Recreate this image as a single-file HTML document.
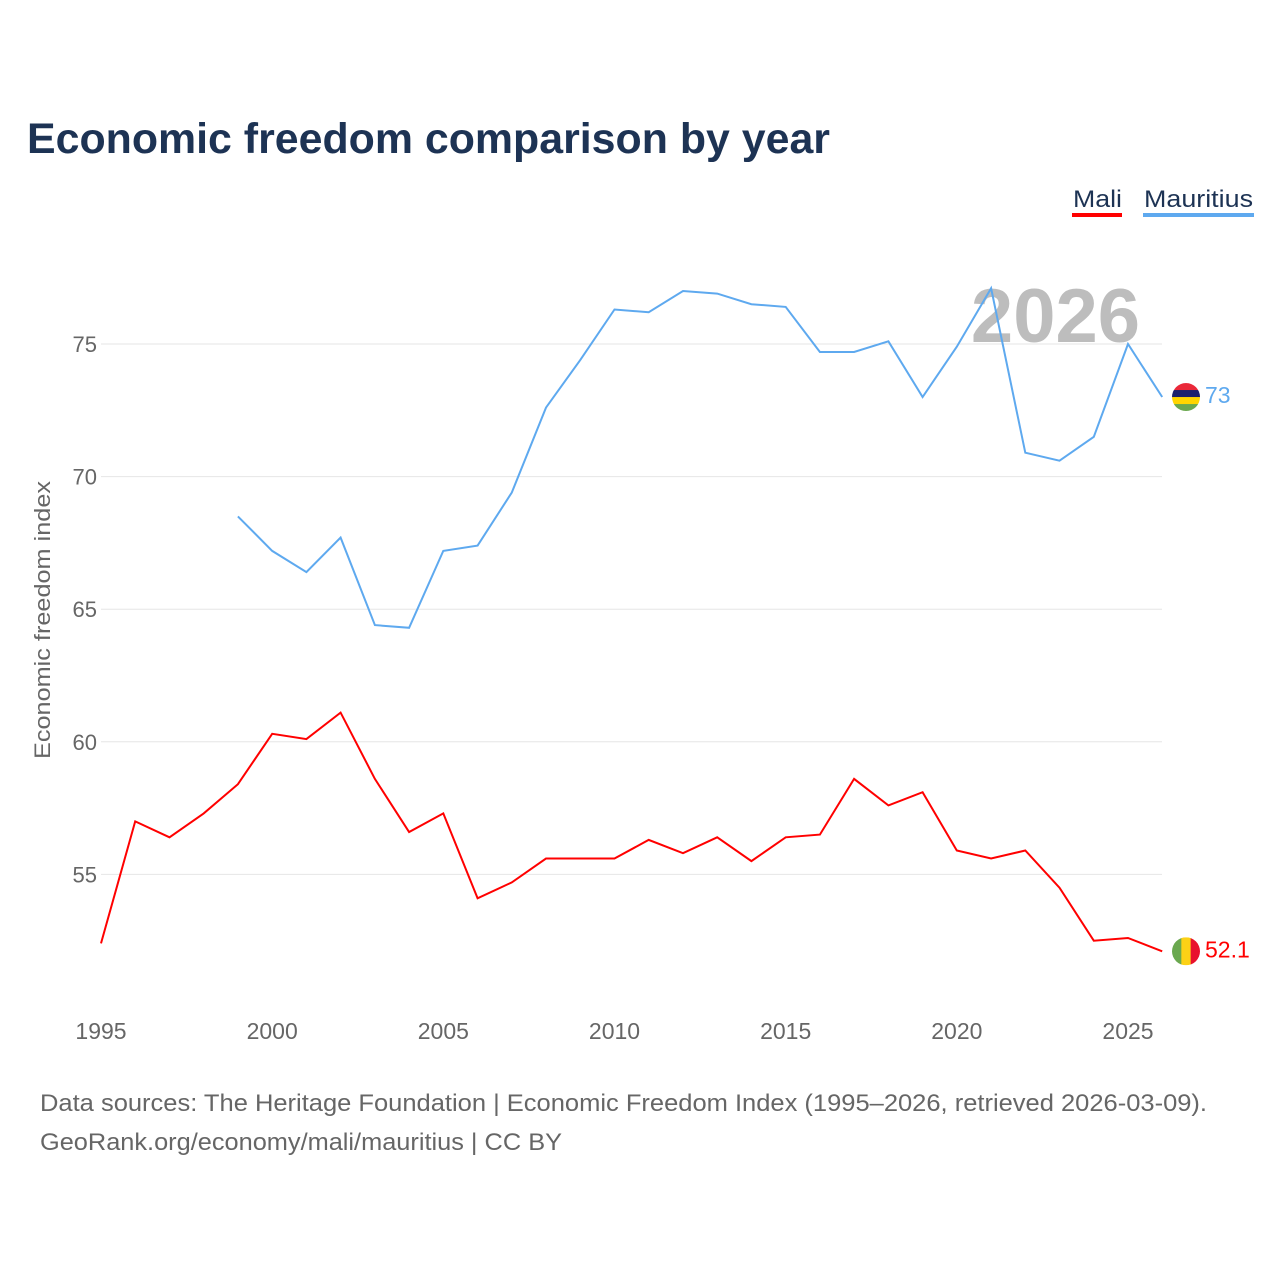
<!DOCTYPE html>
<html><head><meta charset="utf-8">
<style>
body{margin:0;background:#fff;font-family:"Liberation Sans",sans-serif;}
#wrap{position:relative;width:1280px;height:1280px;}
</style></head>
<body><div id="wrap">
<svg id="chart" width="1280" height="1280" xmlns="http://www.w3.org/2000/svg">
<text x="27" y="153" font-size="43" font-weight="bold" fill="#1d3354" textLength="803" lengthAdjust="spacingAndGlyphs">Economic freedom comparison by year</text>
<g><text x="1073" y="207" font-size="24" fill="#1d3354" textLength="49" lengthAdjust="spacingAndGlyphs">Mali</text><rect x="1072" y="213" width="50" height="4" fill="#f00"/></g>
<g><text x="1144" y="207" font-size="24" fill="#1d3354" textLength="109" lengthAdjust="spacingAndGlyphs">Mauritius</text><rect x="1143" y="213" width="111" height="4" fill="#5ea9ef"/></g>
<text x="1140" y="342" font-size="76" font-weight="bold" fill="#bdbdbd" text-anchor="end">2026</text>
<g id="grid"></g><g id="series"></g>
<text transform="translate(50,620) rotate(-90)" font-size="22" fill="#666" text-anchor="middle" textLength="278" lengthAdjust="spacingAndGlyphs">Economic freedom index</text>
<text x="40" y="1111" font-size="24" fill="#666" textLength="1167" lengthAdjust="spacingAndGlyphs">Data sources: The Heritage Foundation | Economic Freedom Index (1995–2026, retrieved 2026-03-09).</text>
<text x="40" y="1150" font-size="24" fill="#666" textLength="522" lengthAdjust="spacingAndGlyphs">GeoRank.org/economy/mali/mauritius | CC BY</text>
</svg></div>
<script>
const years=[1995,1996,1997,1998,1999,2000,2001,2002,2003,2004,2005,2006,2007,2008,2009,2010,2011,2012,2013,2014,2015,2016,2017,2018,2019,2020,2021,2022,2023,2024,2025,2026];
const mali=[52.4,57.0,56.4,57.3,58.4,60.3,60.1,61.1,58.6,56.6,57.3,54.1,54.7,55.6,55.6,55.6,56.3,55.8,56.4,55.5,56.4,56.5,58.6,57.6,58.1,55.9,55.6,55.9,54.5,52.5,52.6,52.1];
const mauritius=[null,null,null,null,68.5,67.2,66.4,67.7,64.4,64.3,67.2,67.4,69.4,72.6,74.4,76.3,76.2,77.0,76.9,76.5,76.4,74.7,74.7,75.1,73.0,74.9,77.1,70.9,70.6,71.5,75.0,73.0];
const yTicks=[55,60,65,70,75];
const xTicks=[1995,2000,2005,2010,2015,2020,2025];
const NS="http://www.w3.org/2000/svg";
const x=v=>101+(v-1995)*(1128-101)/30;
const y=v=>344+(75-v)*26.52;
function mk(tag,attrs,parent){const e=document.createElementNS(NS,tag);for(const k in attrs)e.setAttribute(k,attrs[k]);parent.appendChild(e);return e;}
const grid=document.getElementById('grid'),ser=document.getElementById('series');
yTicks.forEach(t=>{
 const l=mk('line',{x1:101,x2:1162,y1:y(t),y2:y(t),stroke:'#e6e6e6','stroke-width':1},grid);
 
 
 const tx=mk('text',{x:97,y:y(t)+8,'font-size':22,fill:'#666','text-anchor':'end'},grid);tx.textContent=t;
 
 
});
xTicks.forEach(t=>{
 const tx=mk('text',{x:x(t),y:1039,'font-size':23,fill:'#666','text-anchor':'middle'},grid);tx.textContent=t;
 
 
});
function line(vals,color,name){
 let d='';vals.forEach((v,i)=>{if(v==null)return;d+=(d?'L':'M')+x(years[i]).toFixed(1)+','+y(v).toFixed(1);});
 const p=mk('path',{d:d,fill:'none',stroke:color,'stroke-width':2},ser);
 
 
}
line(mali,'#ff0000','mali');line(mauritius,'#5ea9ef','mauritius');
function flag(cx,cy,cols,horiz,name){
 const g=mk('g',{},ser);
 
 
 const id='c'+name;const cp=mk('clipPath',{id:id},g);mk('circle',{cx:cx,cy:cy,r:14},cp);
 const n=cols.length;cols.forEach((c,i)=>{
  if(horiz)mk('rect',{x:cx-14,y:cy-14+i*28/n,width:28,height:28/n+0.5,fill:c,'clip-path':'url(#'+id+')'},g);
  else mk('rect',{x:cx-14+i*28/n,y:cy-14,width:28/n+0.5,height:28,fill:c,'clip-path':'url(#'+id+')'},g);
 });
}
const last=years.length-1;
flag(1186,y(mauritius[last]),['#ea2839','#1a206d','#ffd500','#6aa84f'],true,'mauritius');
flag(1186,y(mali[last]),['#6aa84f','#fcd116','#e8112d'],false,'mali');
const l1=mk('text',{x:1205,y:y(mauritius[last])+6,'font-size':23,fill:'#5ea9ef'},ser);l1.textContent=mauritius[last];


const l2=mk('text',{x:1205,y:y(mali[last])+6,'font-size':23,fill:'#ff0000'},ser);l2.textContent=mali[last];


</script>
</body></html>
